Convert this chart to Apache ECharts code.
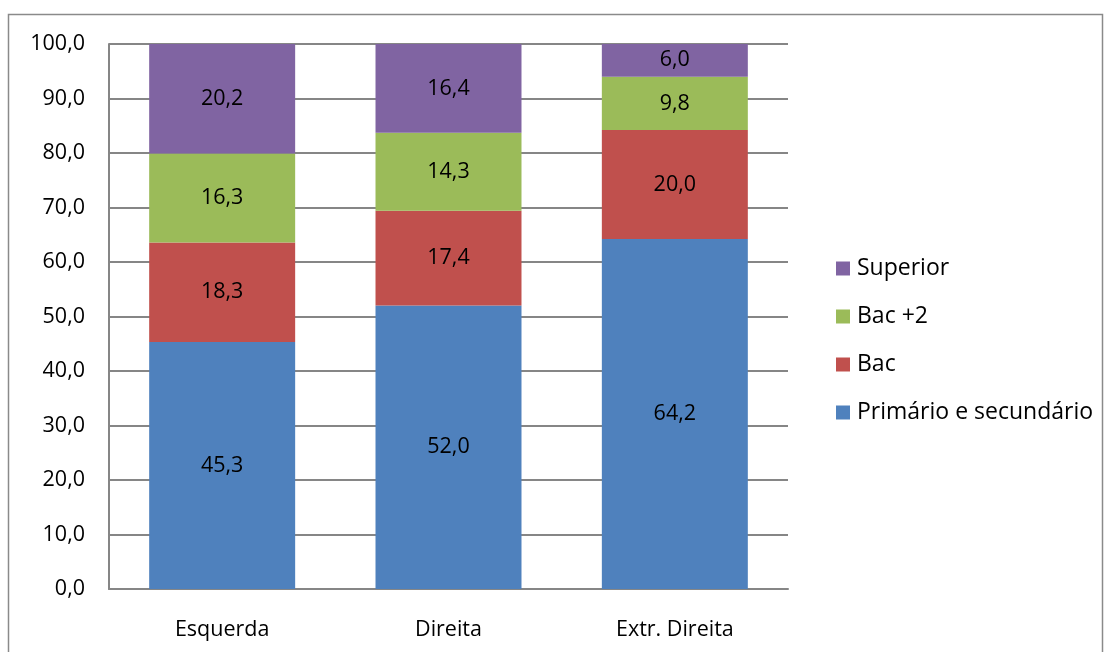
<!DOCTYPE html>
<html>
<head>
<meta charset="utf-8">
<script src="https://cdn.jsdelivr.net/npm/echarts@6/dist/echarts.min.js"></script>
<style>html,body{margin:0;padding:0;background:#fff;}#c{width:1105px;height:652px;}</style>
</head>
<body>
<div id="c"></div>
<script>
const categories = ['Esquerda', 'Direita', 'Extr. Direita'];
const seriesNames = ['Primário e secundário', 'Bac', 'Bac +2', 'Superior'];
const primario = [45.3, 52.0, 64.2];
const bac = [18.3, 17.4, 20.0];
const bac2 = [16.3, 14.3, 9.8];
const superior = [20.2, 16.4, 6.0];
const colors = ['#4F81BD', '#C0504D', '#9BBB59', '#8064A2'];
const values = [primario, bac, bac2, superior];
const FONT = 'Open Sans';
const chart = echarts.init(document.getElementById('c'));
const fmt = v => v.toFixed(1).replace('.', ',');
chart.setOption({
  animation: false,
  textStyle: { fontFamily: FONT },
  graphic: [{
    type: 'rect', shape: { x: 8.5, y: 14.5, width: 1094, height: 660 },
    style: { fill: 'none', stroke: '#8a8a8a', lineWidth: 1.5 }, silent: true
  }],
  grid: { left: 109, right: 317, top: 44, bottom: 63 },
  legend: {
    orient: 'vertical', left: 831, top: 251,
    data: seriesNames.slice().reverse(),
    itemWidth: 14, itemHeight: 14, itemGap: 23,
    icon: 'rect',
    textStyle: { fontFamily: FONT, fontSize: 23, color: '#000', lineHeight: 25, padding: [0, 0, 0, 2] }
  },
  xAxis: {
    type: 'category', data: categories,
    axisLine: { lineStyle: { color: '#868686', width: 2 } },
    axisTick: { show: false },
    axisLabel: { color: '#000', fontSize: 21.5, fontFamily: FONT, margin: 30 }
  },
  yAxis: {
    type: 'value', min: 0, max: 100, interval: 10,
    axisLine: { show: true, lineStyle: { color: '#868686', width: 2 } },
    axisTick: { show: false },
    splitLine: { lineStyle: { color: '#868686', width: 2 } },
    axisLabel: { color: '#000', fontSize: 21.5, fontFamily: FONT, margin: 24, formatter: v => fmt(v) }
  },
  series: seriesNames.map((n, i) => ({
    name: n, type: 'bar', stack: 'total', data: values[i],
    barWidth: '64.5%',
    itemStyle: { color: colors[i] },
    label: { show: true, position: 'inside', color: '#000', fontSize: 21.5, fontFamily: FONT, formatter: p => fmt(p.value) }
  }))
});
</script>
</body>
</html>
